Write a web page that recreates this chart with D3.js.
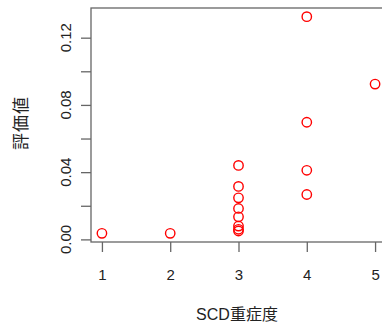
<!DOCTYPE html>
<html>
<head>
<meta charset="utf-8">
<script src="https://cdn.jsdelivr.net/npm/d3@7"></script>
<style>
  body { margin: 0; background: #fff; }
  text { font-family: "Liberation Sans", Arial, "Noto Sans CJK JP", sans-serif; fill: #222; }
</style>
</head>
<body>
<div id="chart"></div>
<script>
// data
var severity = [1, 2, 3, 3, 3, 3, 3, 3, 3, 3, 4, 4, 4, 4, 5];
var score = [0.0036, 0.0036, 0.0440, 0.0315, 0.0247, 0.0184, 0.0134, 0.0079, 0.0060, 0.0050, 0.1325, 0.0697, 0.0411, 0.0267, 0.0924];
var xTicks = [1, 2, 3, 4, 5];
var yTicks = [0.00, 0.02, 0.04, 0.06, 0.08, 0.10, 0.12];
var yLabelTicks = [0.00, 0.04, 0.08, 0.12];

var width = 382, height = 326;
var plotLeft = 91, plotTop = 8, plotBottom = 242, plotRight = 386;

var data = severity.map(function (s, i) { return { x: s, y: score[i] }; });

// R style 4% padding
function pad(ext) {
  var r = ext[1] - ext[0];
  return [ext[0] - 0.04 * r, ext[1] + 0.04 * r];
}

var x = d3.scaleLinear().domain(pad(d3.extent(severity))).range([plotLeft, plotRight]);
var y = d3.scaleLinear().domain(pad(d3.extent(score))).range([plotBottom, plotTop]);

var svg = d3.select('#chart')
  .append('svg')
  .attr('width', width)
  .attr('height', height);

//box
svg.append('rect')
  .attr('x', plotLeft).attr('y', plotTop)
  .attr('width', plotRight - plotLeft).attr('height', plotBottom - plotTop)
  .attr('fill', 'none')
  .attr('stroke', '#666')
  .attr('stroke-width', 1.3);

//x axis
var xAxis = svg.append('g')
  .attr('transform', 'translate(0,' + plotBottom + ')')
  .call(d3.axisBottom(x).tickValues(xTicks).tickSize(10).tickPadding(17).tickFormat(d3.format('d')));
xAxis.select('.domain').remove();
xAxis.selectAll('line').attr('stroke', '#666').attr('stroke-width', 1.3);
xAxis.selectAll('text').style('font-size', '15px').attr('fill', '#222');

//y axis
var yAxis = svg.append('g')
  .attr('transform', 'translate(' + plotLeft + ',0)')
  .call(d3.axisLeft(y).tickValues(yTicks).tickSize(10).tickFormat(''));
yAxis.select('.domain').remove();
yAxis.selectAll('line').attr('stroke', '#666').attr('stroke-width', 1.3);

svg.selectAll('.ylab')
  .data(yLabelTicks)
  .enter().append('text')
  .attr('class', 'ylab')
  .attr('transform', function (d) { return 'translate(71,' + y(d) + ') rotate(-90)'; })
  .attr('text-anchor', 'middle')
  .style('font-size', '15px')
  .text(d3.format('.2f'));

//titles
svg.append('text')
  .attr('x', 237).attr('y', 320)
  .attr('text-anchor', 'middle')
  .style('font-size', '16px')
  .text('SCD重症度');

svg.append('text')
  .attr('transform', 'translate(27,123) rotate(-90)')
  .attr('text-anchor', 'middle')
  .style('font-size', '17px')
  .style('letter-spacing', '1px')
  .text('評価値');

//points
svg.selectAll('circle.pt')
  .data(data)
  .enter().append('circle')
  .attr('class', 'pt')
  .attr('cx', function (d) { return x(d.x); })
  .attr('cy', function (d) { return y(d.y); })
  .attr('r', 4.7)
  .attr('fill', 'none')
  .attr('stroke', '#ff0000')
  .attr('stroke-width', 1.4);
</script>
</body>
</html>
